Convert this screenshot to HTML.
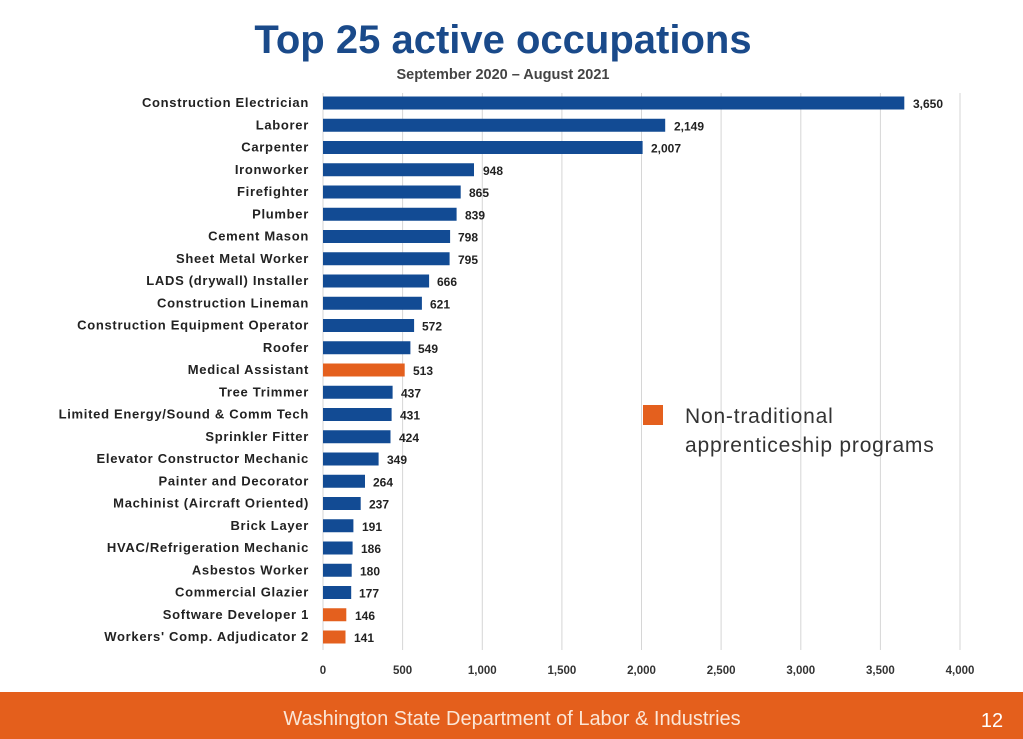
<!DOCTYPE html>
<html><head><meta charset="utf-8"><style>
html,body{margin:0;padding:0;background:#fff;}
svg{display:block;font-family:"Liberation Sans",Arial,sans-serif;}
.l{font-size:13px;font-weight:bold;fill:#222;text-anchor:end;letter-spacing:0.7px;}
.v{font-size:12px;font-weight:bold;fill:#222;}
.t{font-size:11.5px;font-weight:bold;fill:#333;text-anchor:middle;}
.b{fill:#124b94;}
.o{fill:#e4601e;}
</style></head><body>
<svg width="1023" height="739" viewBox="0 0 1023 739">
<rect width="1023" height="739" fill="#fff"/>
<text x="503" y="53" font-size="40" font-weight="bold" fill="#1a4a8a" text-anchor="middle">Top 25 active occupations</text>
<text x="503" y="79" font-size="14.5" font-weight="bold" fill="#444" text-anchor="middle">September 2020 – August 2021</text>
<g stroke="#d6d6d6" stroke-width="1">
<line x1="323" y1="93" x2="323" y2="650"/><line x1="402.6" y1="93" x2="402.6" y2="650"/><line x1="482.3" y1="93" x2="482.3" y2="650"/><line x1="561.9" y1="93" x2="561.9" y2="650"/><line x1="641.5" y1="93" x2="641.5" y2="650"/><line x1="721.1" y1="93" x2="721.1" y2="650"/><line x1="800.8" y1="93" x2="800.8" y2="650"/><line x1="880.4" y1="93" x2="880.4" y2="650"/><line x1="960" y1="93" x2="960" y2="650"/>
</g>
<g>
<rect class="b" x="323" y="96.5" width="581.3" height="13"/>
<rect class="b" x="323" y="118.75" width="342.2" height="13"/>
<rect class="b" x="323" y="141" width="319.6" height="13"/>
<rect class="b" x="323" y="163.25" width="151" height="13"/>
<rect class="b" x="323" y="185.5" width="137.7" height="13"/>
<rect class="b" x="323" y="207.75" width="133.6" height="13"/>
<rect class="b" x="323" y="230" width="127.1" height="13"/>
<rect class="b" x="323" y="252.25" width="126.6" height="13"/>
<rect class="b" x="323" y="274.5" width="106.1" height="13"/>
<rect class="b" x="323" y="296.75" width="98.9" height="13"/>
<rect class="b" x="323" y="319" width="91.1" height="13"/>
<rect class="b" x="323" y="341.25" width="87.4" height="13"/>
<rect class="o" x="323" y="363.5" width="81.7" height="13"/>
<rect class="b" x="323" y="385.75" width="69.6" height="13"/>
<rect class="b" x="323" y="408" width="68.6" height="13"/>
<rect class="b" x="323" y="430.25" width="67.5" height="13"/>
<rect class="b" x="323" y="452.5" width="55.6" height="13"/>
<rect class="b" x="323" y="474.75" width="42" height="13"/>
<rect class="b" x="323" y="497" width="37.7" height="13"/>
<rect class="b" x="323" y="519.25" width="30.4" height="13"/>
<rect class="b" x="323" y="541.5" width="29.6" height="13"/>
<rect class="b" x="323" y="563.75" width="28.7" height="13"/>
<rect class="b" x="323" y="586" width="28.2" height="13"/>
<rect class="o" x="323" y="608.25" width="23.3" height="13"/>
<rect class="o" x="323" y="630.5" width="22.5" height="13"/>
</g>
<g>
<text class="l" x="309" y="107">Construction Electrician</text>
<text class="l" x="309" y="129.25">Laborer</text>
<text class="l" x="309" y="151.5">Carpenter</text>
<text class="l" x="309" y="173.75">Ironworker</text>
<text class="l" x="309" y="196">Firefighter</text>
<text class="l" x="309" y="218.25">Plumber</text>
<text class="l" x="309" y="240.5">Cement Mason</text>
<text class="l" x="309" y="262.75">Sheet Metal Worker</text>
<text class="l" x="309" y="285">LADS (drywall) Installer</text>
<text class="l" x="309" y="307.25">Construction Lineman</text>
<text class="l" x="309" y="329.5">Construction Equipment Operator</text>
<text class="l" x="309" y="351.75">Roofer</text>
<text class="l" x="309" y="374">Medical Assistant</text>
<text class="l" x="309" y="396.25">Tree Trimmer</text>
<text class="l" x="309" y="418.5">Limited Energy/Sound &amp; Comm Tech</text>
<text class="l" x="309" y="440.75">Sprinkler Fitter</text>
<text class="l" x="309" y="463">Elevator Constructor Mechanic</text>
<text class="l" x="309" y="485.25">Painter and Decorator</text>
<text class="l" x="309" y="507.5">Machinist (Aircraft Oriented)</text>
<text class="l" x="309" y="529.75">Brick Layer</text>
<text class="l" x="309" y="552">HVAC/Refrigeration Mechanic</text>
<text class="l" x="309" y="574.25">Asbestos Worker</text>
<text class="l" x="309" y="596.5">Commercial Glazier</text>
<text class="l" x="309" y="618.75">Software Developer 1</text>
<text class="l" x="309" y="641">Workers' Comp. Adjudicator 2</text>
</g>
<g>
<text class="v" x="913" y="108">3,650</text>
<text class="v" x="674" y="130.25">2,149</text>
<text class="v" x="651" y="152.5">2,007</text>
<text class="v" x="483" y="174.75">948</text>
<text class="v" x="469" y="197">865</text>
<text class="v" x="465" y="219.25">839</text>
<text class="v" x="458" y="241.5">798</text>
<text class="v" x="458" y="263.75">795</text>
<text class="v" x="437" y="286">666</text>
<text class="v" x="430" y="308.25">621</text>
<text class="v" x="422" y="330.5">572</text>
<text class="v" x="418" y="352.75">549</text>
<text class="v" x="413" y="375">513</text>
<text class="v" x="401" y="397.25">437</text>
<text class="v" x="400" y="419.5">431</text>
<text class="v" x="399" y="441.75">424</text>
<text class="v" x="387" y="464">349</text>
<text class="v" x="373" y="486.25">264</text>
<text class="v" x="369" y="508.5">237</text>
<text class="v" x="362" y="530.75">191</text>
<text class="v" x="361" y="553">186</text>
<text class="v" x="360" y="575.25">180</text>
<text class="v" x="359" y="597.5">177</text>
<text class="v" x="355" y="619.75">146</text>
<text class="v" x="354" y="642">141</text>
</g>
<g>
<text class="t" x="323" y="674">0</text><text class="t" x="402.6" y="674">500</text><text class="t" x="482.3" y="674">1,000</text><text class="t" x="561.9" y="674">1,500</text><text class="t" x="641.5" y="674">2,000</text><text class="t" x="721.1" y="674">2,500</text><text class="t" x="800.8" y="674">3,000</text><text class="t" x="880.4" y="674">3,500</text><text class="t" x="960" y="674">4,000</text>
</g>
<rect class="o" x="643" y="405" width="20" height="20"/>
<text x="685" y="423" font-size="21" fill="#333" letter-spacing="0.8">Non-traditional</text>
<text x="685" y="452" font-size="21" fill="#333" letter-spacing="0.8">apprenticeship programs</text>
<rect x="0" y="692" width="1023" height="47" fill="#e45f1c"/>
<text x="512" y="725" font-size="20" fill="#fbe6d6" text-anchor="middle">Washington State Department of Labor &amp; Industries</text>
<text x="992" y="727" font-size="20" fill="#fff" text-anchor="middle">12</text>
</svg>
</body></html>
